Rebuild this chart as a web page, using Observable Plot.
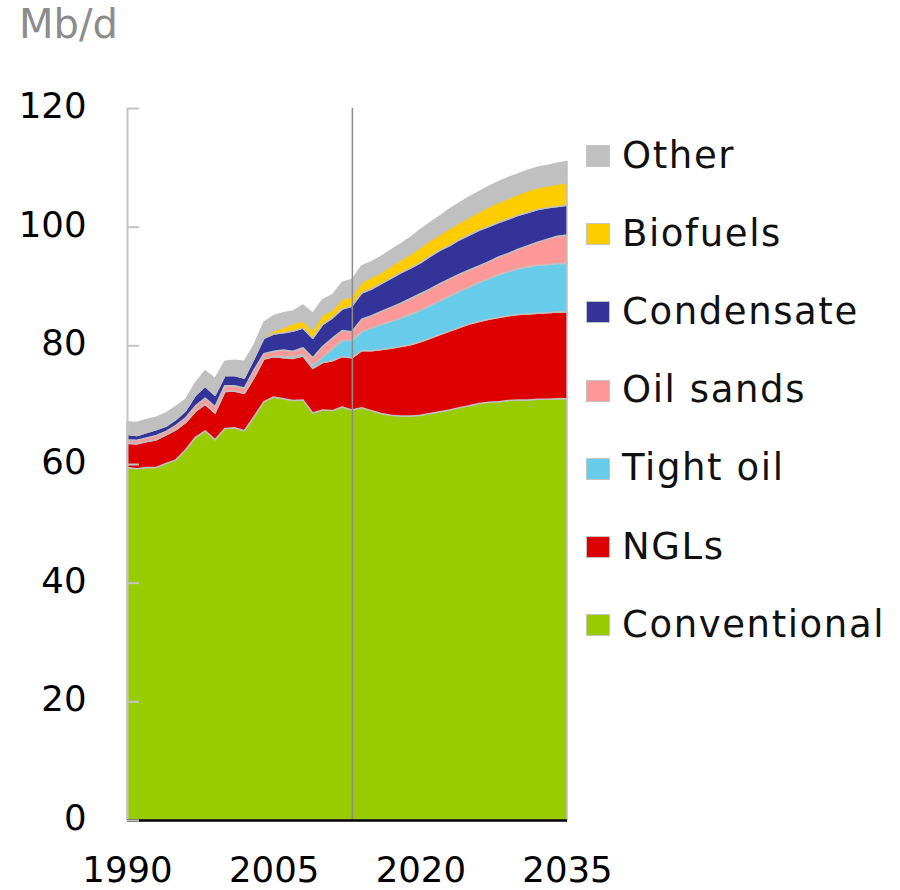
<!DOCTYPE html>
<html>
<head>
<meta charset="utf-8">
<script src="https://cdn.jsdelivr.net/npm/d3@7"></script>
<script src="https://cdn.jsdelivr.net/npm/@observablehq/plot@0.6"></script>
<style>
  body { margin: 0; background: #fff; }
  #wrap { position: relative; width: 900px; height: 890px; font-family: "DejaVu Sans", sans-serif; overflow: hidden; }
  #chart { position: absolute; left: 0; top: 0; }
  #title { position: absolute; left: 19px; top: 4px; font-size: 40px; line-height: 1; color: #8c8c8c; }
  .sw { position: absolute; left: 586px; width: 24px; height: 22px; box-sizing: border-box; border: 1px solid #c4c4c4; }
  .lt { position: absolute; left: 622px; font-size: 37px; line-height: 1; color: #111; letter-spacing: 1.6px; white-space: nowrap; }
</style>
</head>
<body>
<div id="wrap">
  <div id="chart"></div>
  <div id="title">Mb/d</div>
  <div id="legend"></div>
</div>
<script>
// ---- data (Mb/d) ----
const years = [1990,1991,1992,1993,1994,1995,1996,1997,1998,1999,
               2000,2001,2002,2003,2004,2005,2006,2007,2008,2009,
               2010,2011,2012,2013,2014,2015,2016,2017,2018,2019,
               2020,2021,2022,2023,2024,2025,2026,2027,2028,2029,
               2030,2031,2032,2033,2034,2035];

const seriesNames = ["Conventional", "NGLs", "Tight oil", "Oil sands", "Condensate", "Biofuels", "Other"];
const seriesColors = ["#99cc00", "#dd0000", "#66ccea", "#ff9999", "#333399", "#ffcc00", "#c0c0c0"];

const conventional = [59.4,59.2,59.4,59.4,60.1,60.7,62.4,64.5,65.6,64.1,
                      66.0,66.1,65.6,68.0,70.5,71.3,71.0,70.7,70.8,68.6,
                      69.1,69.0,69.6,69.1,69.5,69.0,68.5,68.2,68.1,68.1,
                      68.2,68.5,68.8,69.1,69.5,69.8,70.2,70.4,70.5,70.7,
                      70.8,70.8,70.9,70.9,71.0,71.0];
const ngls =         [4.1,4.2,4.4,4.7,4.8,5.1,4.6,4.4,4.5,4.5,
                      6.2,6.2,6.3,6.6,7.2,6.8,6.9,7.1,7.4,7.5,
                      8.0,8.4,8.5,8.8,9.6,10.1,10.8,11.3,11.7,12.0,
                      12.4,12.7,13.0,13.3,13.5,13.8,13.8,14.0,14.2,14.3,
                      14.4,14.5,14.5,14.6,14.6,14.6];
const tightOil =     [0,0,0,0,0,0,0,0,0,0,
                      0,0,0,0,0,0,0.2,0.3,0.3,0.5,
                      0.9,2.0,2.7,2.9,3.2,3.8,4.2,4.5,4.8,5.1,
                      5.3,5.5,5.7,5.9,6.1,6.2,6.6,6.8,7.2,7.4,
                      7.7,7.9,8.1,8.1,8.2,8.2];
const oilSands =     [0.6,0.6,0.6,0.7,0.6,0.7,0.8,0.9,1.0,1.1,
                      1.0,0.9,0.9,1.3,0.9,0.9,1.1,0.9,1.1,1.3,
                      1.8,1.8,1.7,1.5,2.1,2.1,2.2,2.4,2.5,2.7,
                      2.8,2.8,2.9,2.9,2.9,2.9,2.8,2.9,3.0,3.1,
                      3.3,3.6,3.9,4.3,4.6,4.8];
const condensate =   [0.9,0.8,0.9,1.0,0.9,1.0,1.2,1.8,2.0,1.9,
                      1.7,1.7,1.7,1.9,2.6,2.9,2.9,3.4,3.3,3.3,
                      3.7,3.4,3.6,4.3,4.4,4.5,4.7,4.9,5.1,5.1,
                      5.2,5.5,5.6,5.6,5.8,5.9,6.0,5.9,5.8,5.8,
                      5.7,5.6,5.5,5.3,5.0,5.0];
const biofuels =     [0,0,0,0,0,0,0,0,0,0,
                      0,0,0,0,0.3,0.6,0.9,1.3,1.2,1.4,
                      1.7,1.4,1.7,1.6,1.8,2.0,1.9,2.1,2.2,2.4,
                      2.6,2.7,2.7,2.9,2.9,3.0,3.1,3.4,3.4,3.5,
                      3.6,3.7,3.7,3.7,3.8,3.8];
const other =        [2.1,2.2,2.2,2.1,2.2,2.2,1.9,2.1,2.6,2.8,
                      2.4,2.6,2.8,2.3,2.4,2.5,2.5,2.1,2.7,2.8,
                      2.5,2.5,2.8,2.9,2.8,2.6,2.7,2.7,2.7,2.8,
                      3.0,3.0,3.1,3.3,3.3,3.4,3.4,3.4,3.5,3.5,
                      3.4,3.4,3.4,3.4,3.5,3.6];

const xTicks = [1990, 2005, 2020, 2035];
const yTicks = [0, 20, 40, 60, 80, 100, 120];
const dividerYear = 2013;
const legendOrder = ["Other", "Biofuels", "Condensate", "Oil sands", "Tight oil", "NGLs", "Conventional"];

// ---- table ----
const seriesValues = [conventional, ngls, tightOil, oilSands, condensate, biofuels, other];
const table = [];
seriesNames.forEach((name, s) => {
  years.forEach((yr, i) => table.push({year: yr, series: name, value: seriesValues[s][i]}));
});

const chart = Plot.plot({
  width: 900,
  height: 890,
  marginLeft: 127,
  marginRight: 333,
  marginTop: 108,
  marginBottom: 70,
  style: {fontFamily: "'DejaVu Sans', sans-serif", fontSize: "35.5px", color: "#000", background: "transparent", overflow: "visible"},
  x: {domain: [years[0], years[years.length - 1]], label: null},
  y: {domain: [0, 120], label: null},
  color: {domain: seriesNames, range: seriesColors},
  marks: [
    Plot.areaY(table, {x: "year", y: "value", z: "series", fill: "series", stroke: "#c0c0c0", strokeWidth: 1.5}),
    Plot.ruleX([years[0]], {stroke: "#c4c4c4", strokeWidth: 2}),
    Plot.ruleX([dividerYear], {stroke: "#8c8c8c", strokeWidth: 1.5}),
    Plot.ruleY([0], {stroke: "#000", strokeWidth: 2.5}),
    Plot.axisY({ticks: yTicks, tickSize: 12, dx: 12, fill: "none", stroke: "#c4c4c4", strokeWidth: 2, label: null}),
    Plot.axisY({ticks: yTicks, tickSize: 0, tickPadding: 41, dy: -2, label: null, fill: "#000"}),
    Plot.axisX({ticks: xTicks, tickFormat: d => String(d), tickSize: 0, tickPadding: 36, label: null, fill: "#000"})
  ]
});
document.getElementById("chart").appendChild(chart);

// ---- legend ----
const legend = document.getElementById("legend");
legendOrder.forEach((name, k) => {
  const sw = document.createElement("div");
  sw.className = "sw";
  sw.style.top = (145 + 78.2 * k) + "px";
  sw.style.background = seriesColors[seriesNames.indexOf(name)];
  legend.appendChild(sw);
  const t = document.createElement("div");
  t.className = "lt";
  t.style.top = (136.5 + 78.2 * k) + "px";
  t.textContent = name;
  legend.appendChild(t);
});
</script>
</body>
</html>
